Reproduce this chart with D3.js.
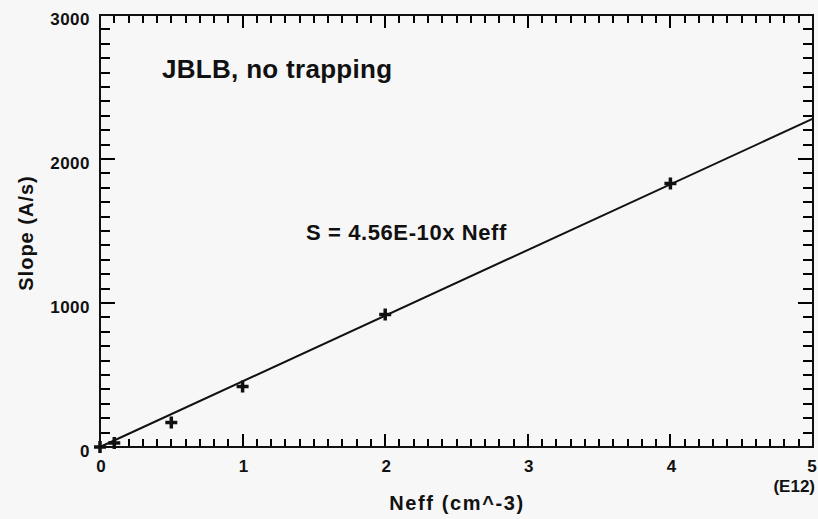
<!DOCTYPE html>
<html>
<head>
<meta charset="utf-8">
<script src="https://cdn.jsdelivr.net/npm/d3@7"></script>
<style>
  body { margin: 0; background: #f7f7f7; }
  text { font-family: "Liberation Sans", Arial, sans-serif; fill: #111; font-weight: bold; }
</style>
</head>
<body>
<div id="chart"></div>
<script>
// datos (Neff en unidades de 1E12 cm^-3, pendiente en A/s)
const neff = [0, 0.1, 0.5, 1, 2, 4];
const slope = [0, 28, 170, 420, 920, 1830];
const fitCoef = 456; // S = 4.56E-10 x Neff  ->  456 por 1E12
const fitRange = [0, 5];
const xTicks = [0, 1, 2, 3, 4, 5];
const yTicks = [0, 1000, 2000, 3000];

const width = 818;
const height = 519;
const margin = { top: 15, right: 5, bottom: 72, left: 100 };

const svg = d3.select("#chart")
    .append("svg")
    .attr("width", width)
    .attr("height", height);

svg.append("rect").attr("width", width).attr("height", height).attr("fill", "#f7f7f7");

const x = d3.scaleLinear().domain([0, 5]).range([margin.left, width - margin.right]);
const y = d3.scaleLinear().domain([0, 3000]).range([height - margin.bottom, margin.top]);

const x0 = x(0), x1 = x(5), y0 = y(0), y1 = y(3000);

// marcas menores (cada 0.1 y cada 100) y mayores, hacia adentro
const xAll = d3.range(0, 51).map(i => i / 10);
const yAll = d3.range(0, 31).map(i => i * 100);
const xLen = d => (xTicks.includes(d) ? 13 : 8);
const yLen = d => (yTicks.includes(d) ? 15 : 10);

const tk = svg.append("g")
    .style("stroke", "#000")
    .style("stroke-width", "2px")
    .style("shape-rendering", "crispEdges");
tk.selectAll(".xb").data(xAll).enter().append("line")
    .attr("x1", d => Math.round(x(d))).attr("x2", d => Math.round(x(d)))
    .attr("y1", y0).attr("y2", d => y0 - xLen(d));
tk.selectAll(".xu").data(xAll).enter().append("line")
    .attr("x1", d => Math.round(x(d))).attr("x2", d => Math.round(x(d)))
    .attr("y1", y1).attr("y2", d => y1 + xLen(d));
tk.selectAll(".yl").data(yAll).enter().append("line")
    .attr("x1", x0).attr("x2", d => x0 + yLen(d))
    .attr("y1", d => Math.round(y(d))).attr("y2", d => Math.round(y(d)));
tk.selectAll(".yr").data(yAll).enter().append("line")
    .attr("x1", x1).attr("x2", d => x1 - yLen(d))
    .attr("y1", d => Math.round(y(d))).attr("y2", d => Math.round(y(d)));

// marco
svg.append("rect")
    .attr("x", x0).attr("y", y1)
    .attr("width", x1 - x0).attr("height", y0 - y1)
    .style("fill", "none").style("stroke", "#111").style("stroke-width", "2px");

// etiquetas de los ejes
svg.selectAll(".xt").data(xTicks).enter().append("text")
    .attr("x", d => x(d) + (d === 5 ? -1 : 1))
    .attr("y", y0 + 25)
    .attr("text-anchor", "middle")
    .style("font-size", "17px")
    .text(d => d);

svg.selectAll(".yt").data(yTicks).enter().append("text")
    .attr("x", x0 - 10)
    .attr("y", d => y(d) + 10)
    .attr("text-anchor", "end")
    .style("font-size", "17px")
    .style("letter-spacing", "0.5px")
    .text(d => d);

svg.append("text")
    .attr("x", 815).attr("y", 492)
    .attr("text-anchor", "end")
    .style("font-size", "17px")
    .text("(E12)");

svg.append("text")
    .attr("x", 457).attr("y", 510)
    .attr("text-anchor", "middle")
    .style("font-size", "20px")
    .style("letter-spacing", "1.6px")
    .text("Neff (cm^-3)");

svg.append("text")
    .attr("transform", "translate(33,233) rotate(-90)")
    .attr("text-anchor", "middle")
    .style("font-size", "20px")
    .style("letter-spacing", "1px")
    .text("Slope (A/s)");

// recta ajustada
const line = d3.line().x(d => x(d)).y(d => y(fitCoef * d));
svg.append("path")
    .datum(fitRange)
    .attr("d", line)
    .style("fill", "none")
    .style("stroke", "#111")
    .style("stroke-width", "2px");

// puntos (cruces)
const pts = svg.selectAll(".pt").data(neff).enter().append("g")
    .attr("transform", (d, i) => `translate(${x(d)},${y(slope[i])})`);
pts.append("line").attr("x1", -6).attr("x2", 6).style("stroke", "#111").style("stroke-width", "3.5px");
pts.append("line").attr("y1", -6).attr("y2", 6).style("stroke", "#111").style("stroke-width", "3.5px");

// anotaciones
svg.append("text")
    .attr("x", 162).attr("y", 78)
    .style("font-size", "26px")
    .style("letter-spacing", "0.3px")
    .text("JBLB, no trapping");

svg.append("text")
    .attr("x", 306).attr("y", 240)
    .style("font-size", "22px")
    .style("letter-spacing", "0.6px")
    .text("S = 4.56E-10x Neff");
</script>
</body>
</html>
